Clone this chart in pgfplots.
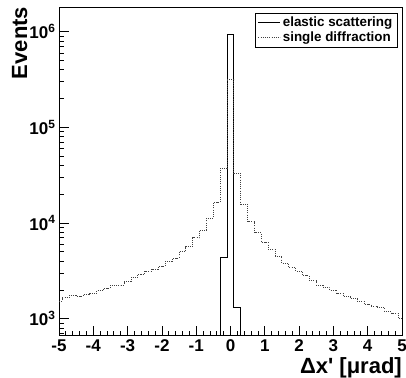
\documentclass[border=0pt]{standalone}
\usepackage{fontspec}
\setmainfont{Liberation Sans}
\usepackage{pgfplots}
\pgfplotsset{compat=1.18}
\newcommand\ticfont{\fontsize{17bp}{17bp}\selectfont\bfseries}
\newcommand\labfont{\fontsize{22bp}{22bp}\selectfont\bfseries}
\newcommand\legfont{\fontsize{13.4bp}{16bp}\selectfont\bfseries}
\newcommand\dec[1]{10\textsuperscript{#1}}
\begin{document}
\begin{tikzpicture}
\path[use as bounding box] (0,0) rectangle (406bp,378bp);
\begin{axis}[
  at={(59bp,42bp)}, anchor=south west,
  scale only axis, width=343bp, height=328bp,
  xmin=-5, xmax=5, ymode=log, ymin=660, ymax=1.77e6,
  axis line style={line width=1bp},
  every tick/.style={black, line width=0.8bp},
  tick align=inside, tick pos=left,
  major tick length=10bp, minor tick length=5bp,
  xtick={-5,-4,-3,-2,-1,0,1,2,3,4,5},
  xticklabels={-5,-4,-3,-2,-1,0,1,2,3,4,5},
  minor x tick num=4,
  ytick={1000,10000,100000,1000000},
  yticklabels={\dec{3},\dec{4},\dec{5},\dec{6}},
  minor ytick={700,800,900,2000,3000,4000,5000,6000,7000,8000,9000,20000,30000,40000,50000,60000,70000,80000,90000,200000,300000,400000,500000,600000,700000,800000,900000},
  xticklabel style={font=\ticfont},
  yticklabel style={font=\ticfont},
  xlabel={Δx\textquotesingle{} [μrad]},
  xlabel style={font=\labfont, at={(axis description cs:1,-0.1137)}, anchor=base east, inner sep=0pt},
  ylabel={Events},
  ylabel style={font=\labfont, at={(axis description cs:-0.093,1.004)}, anchor=base east, inner sep=0pt},
  legend style={at={(axis description cs:0.987,0.986)}, anchor=north east, draw=black, fill=white,
    font=\legfont, inner xsep=3bp, inner ysep=2bp, row sep=0bp, cells={anchor=west}},
  legend image code/.code={\draw[#1] (0bp,0bp) -- (22bp,0bp);},
]
\addplot[const plot mark mid, black, line width=1bp] coordinates {
(-0.4,100) (-0.2,4385) (0,946000) (0.2,1315) (0.4,100)};
\addlegendentry{elastic scattering\hspace{8bp}}
\addplot[const plot mark mid, black!75, line width=1bp, dash pattern=on 1bp off 1.2bp] coordinates {
(-5.0,1530) (-4.8,1655) (-4.6,1760) (-4.4,1727) (-4.2,1800) (-4.0,1820)
(-3.8,1960) (-3.6,2080) (-3.4,2250) (-3.2,2250) (-3.0,2440) (-2.8,2710)
(-2.6,2930) (-2.4,3150) (-2.2,3300) (-2.0,3550) (-1.8,4010) (-1.6,4280)
(-1.4,5010) (-1.2,5650) (-1.0,7020) (-0.8,8450) (-0.6,11200) (-0.4,16400)
(-0.2,37300) (0.0,320000) (0.2,33000) (0.4,15800) (0.6,10300) (0.8,7920)
(1.0,6280) (1.2,5310) (1.4,4520) (1.6,3800) (1.8,3440) (2.0,3150)
(2.2,2810) (2.4,2490) (2.6,2250) (2.8,2130) (3.0,1995) (3.2,1840)
(3.4,1700) (3.6,1620) (3.8,1530) (4.0,1413) (4.2,1335) (4.4,1300)
(4.6,1183) (4.8,1140) (5.0,1010)};
\addlegendentry{single diffraction}
\end{axis}
\end{tikzpicture}
\end{document}
